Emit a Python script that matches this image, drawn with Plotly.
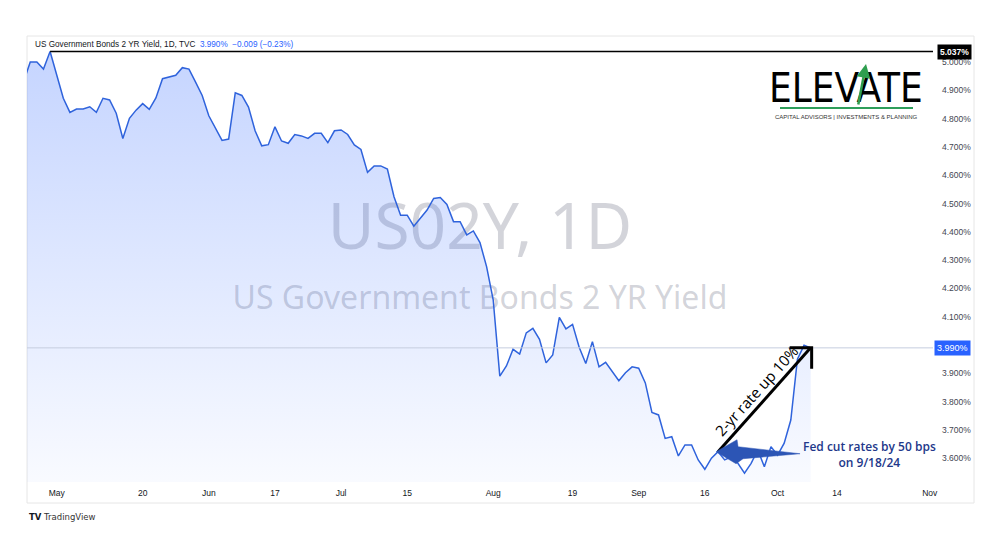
import plotly.graph_objects as go
import pandas as pd

# ---------------- data ----------------
dates = pd.bdate_range("2024-04-24", "2024-10-08")   # every weekday bar (TVC daily)
yields = [
    # Apr 24-30
    4.930, 5.000, 5.000, 4.975, 5.037,
    # May
    4.954, 4.872, 4.822, 4.834, 4.834, 4.842, 4.822, 4.872, 4.866, 4.819,
    4.730, 4.801, 4.830, 4.853, 4.833, 4.873, 4.941, 4.948, 4.953, 4.980,
    4.975, 4.929, 4.882,
    # Jun
    4.810, 4.765, 4.723, 4.728, 4.891, 4.882, 4.841, 4.757, 4.704, 4.708,
    4.771, 4.721, 4.713, 4.744, 4.739, 4.730, 4.748, 4.748, 4.715, 4.757,
    # Jul
    4.760, 4.744, 4.707, 4.691, 4.610, 4.633, 4.633, 4.622, 4.524, 4.459,
    4.459, 4.420, 4.448, 4.477, 4.518, 4.521, 4.497, 4.436, 4.436, 4.389,
    4.403, 4.362, 4.277,
    # Aug
    4.160, 3.890, 3.926, 3.985, 3.968, 4.043, 4.059, 4.020, 3.937, 3.965,
    4.098, 4.057, 4.073, 3.992, 3.935, 4.012, 3.923, 3.939, 3.906, 3.874,
    3.902, 3.923,
    # Sep
    3.918, 3.866, 3.762, 3.753, 3.670, 3.676, 3.608, 3.647, 3.647, 3.594,
    3.561, 3.600, 3.623, 3.594, 3.605, 3.582, 3.547, 3.582, 3.629, 3.570,
    3.641,
    # Oct 1-8
    3.611, 3.653, 3.735, 3.950, 3.999, 3.990,
]

x_tick_dates = ["2024-05-01", "2024-05-20", "2024-06-03", "2024-06-17", "2024-07-01",
                "2024-07-15", "2024-08-01", "2024-08-19", "2024-09-02", "2024-09-16",
                "2024-10-01", "2024-10-14", "2024-11-01"]
x_tick_labels = ["May", "20", "Jun", "17", "Jul", "15", "Aug", "19", "Sep", "16",
                 "Oct", "14", "Nov"]
y_ticks = [3.6, 3.7, 3.8, 3.9, 4.1, 4.2, 4.3, 4.4, 4.5, 4.6, 4.7, 4.8, 4.9, 5.0]
fed_cut_date = "2024-09-18"
x_range = ["2024-04-24 12:15", "2024-11-01 12:00"]
y_range = [3.516, 5.092]

# derived values
last = yields[-1]
prev = yields[-2]
chg = last - prev
pct = chg / prev * 100
hi = max(yields)
hi_date = dates[yields.index(hi)]
last_date = dates[-1]
fed_val = yields[list(dates.strftime("%Y-%m-%d")).index(fed_cut_date)]

def fmt_signed(v, d):
    return f"{v:.{d}f}".replace("-", "\u2212")

BLUE = "#2962ff"
FONT = "Liberation Sans, Arial, sans-serif"

# geometry: page pixels (body has an 8px margin in the browser)
OFF = 8
W, H = 1000, 560
PL, PR, PT, PB = 27, 933, 36, 482          # plot box in page pixels
L, T = PL - OFF, PT - OFF
R, B = W - (PR - OFF), H - (PB - OFF)
PW, PH = PR - PL, PB - PT
def px(x):
    return (x - PL) / PW
def py(y):
    return (PB - y) / PH

fig = go.Figure()

# watermark (behind series)
WM = "rgba(118,122,140,0.32)"
fig.add_trace(go.Scatter(
    x=["2024-07-30"], y=[4.395], mode="text", text=["US02Y, 1D"],
    textfont=dict(size=64, color=WM, family="Noto Sans, sans-serif"),
    hoverinfo="skip", showlegend=False))
fig.add_trace(go.Scatter(
    x=["2024-07-30"], y=[4.155], mode="text", text=["US Government Bonds 2 YR Yield"],
    textfont=dict(size=32, color=WM, family="Noto Sans, sans-serif"),
    hoverinfo="skip", showlegend=False))

# area series
fig.add_trace(go.Scatter(
    x=dates, y=yields, mode="lines",
    line=dict(color="#2f63dc", width=1.5),
    fill="tozeroy",
    fillgradient=dict(type="vertical",
                      colorscale=[[0, "rgba(41,98,255,0.03)"], [1, "rgba(41,98,255,0.27)"]],
                      start=y_range[0], stop=hi),
    hoverinfo="x+y", showlegend=False))

fig.update_layout(
    width=W, height=H,
    margin=dict(l=L, r=R, t=T, b=B),
    paper_bgcolor="white", plot_bgcolor="white",
    font=dict(family=FONT, color="#131722"),
    xaxis=dict(type="date", range=x_range,
               rangebreaks=[dict(bounds=["sat", "mon"])],
               tickvals=x_tick_dates, ticktext=x_tick_labels,
               showgrid=False, zeroline=False, showline=False, ticks="",
               tickfont=dict(size=8.5, color="#131722"), ticklabelstandoff=4),
    yaxis=dict(side="right", range=y_range,
               tickvals=y_ticks, ticktext=[f"{v:.3f}%" for v in y_ticks],
               showgrid=False, zeroline=False, showline=False, ticks="",
               tickfont=dict(size=8.5, color="#434651"), ticklabelstandoff=8),
)

shapes = []
shapes.append(dict(type="rect", xref="paper", yref="paper",
                   x0=0, x1=px(974), y0=py(503), y1=py(36),
                   line=dict(color="#e6e6e6", width=1), layer="below"))
shapes.append(dict(type="line", xref="x", yref="y", x0=hi_date, x1=x_range[1],
                   y0=hi, y1=hi, line=dict(color="black", width=1.5)))
shapes.append(dict(type="line", xref="paper", yref="y", x0=0, x1=1,
                   y0=last, y1=last, line=dict(color="#c6cddf", width=1)))
shapes.append(dict(type="line", xref="x", yref="y", x0=fed_cut_date, y0=fed_val,
                   x1=last_date, y1=last, line=dict(color="black", width=3)))
shapes.append(dict(type="path", xref="x", yref="y", xsizemode="pixel", ysizemode="pixel",
                   xanchor=last_date, yanchor=last,
                   path="M -21,0 L 1,0 L 1,-21", line=dict(color="black", width=3)))
shapes.append(dict(type="path", xref="x", yref="y", xsizemode="pixel", ysizemode="pixel",
                   xanchor=fed_cut_date, yanchor=fed_val,
                   path="M -2,0 L 19,12 L 20,5 L 82,-2 L 25,-7 L 18,-12 Z",
                   fillcolor="#2c55b5", line=dict(color="#2c55b5", width=0.5)))
shapes.append(dict(type="line", xref="paper", yref="paper", x0=px(780), x1=px(913),
                   y0=py(108), y1=py(108), line=dict(color="#2e9e5b", width=2)))
fig.update_layout(shapes=shapes)

ann = []
def add(**kw):
    kw.setdefault("xanchor", "center")
    kw.setdefault("yanchor", "middle")
    kw.setdefault("showarrow", False)
    ann.append(kw)

add(xref="paper", yref="paper", x=px(33), y=py(45), xanchor="left",
    font=dict(size=8.2, color="#131722", family=FONT),
    text=("US Government Bonds 2 YR Yield, 1D, TVC&nbsp;&nbsp;"
          f"<span style='color:{BLUE}'>{last:.3f}%&nbsp;&nbsp;{fmt_signed(chg, 3)} ({fmt_signed(pct, 2)}%)</span>"))
add(xref="paper", yref="y", x=1, y=hi, xanchor="left", xshift=4,
    text=f"<b>{hi:.3f}%</b>", bgcolor="black",
    font=dict(size=8.5, color="white", family=FONT), borderpad=2)
add(xref="paper", yref="y", x=1, y=last, xanchor="left", xshift=1,
    text=f"{last:.3f}%", bgcolor=BLUE,
    font=dict(size=9, color="white", family=FONT), borderpad=2)
add(xref="paper", yref="paper", x=px(756), y=py(391),
    text="2-yr rate up 10%", textangle=-48,
    font=dict(size=15, color="black", family="Open Sans, sans-serif", weight=500))
add(xref="paper", yref="paper", x=px(869), y=py(454),
    text="Fed cut rates by 50 bps<br>on 9/18/24", align="center",
    font=dict(size=12, color="#22388a", family="Open Sans, sans-serif", weight=600))
# logo
add(xref="paper", yref="paper", x=px(846), y=py(88),
    text="ELEVATE",
    font=dict(size=40, color="black",
              family="Liberation Sans Narrow, DejaVu Sans Condensed, sans-serif"))
add(xref="paper", yref="paper", x=px(866), y=py(64), ax=-8, ay=42,
    showarrow=True, arrowhead=2, arrowsize=1.1, arrowwidth=2.5,
    arrowcolor="#2e9e4f", text="")
add(xref="paper", yref="paper", x=px(846), y=py(117),
    text="CAPITAL ADVISORS | INVESTMENTS &amp; PLANNING",
    font=dict(size=6, color="#333333", family=FONT))
# TradingView footer
add(xref="paper", yref="paper", x=px(27), y=py(517), xanchor="left",
    text="<b>TV</b> <span style='color:#333'>TradingView</span>",
    font=dict(size=8.5, color="#131722", family="DejaVu Sans, sans-serif"))
fig.update_layout(annotations=ann)

fig.write_html("out.html")
